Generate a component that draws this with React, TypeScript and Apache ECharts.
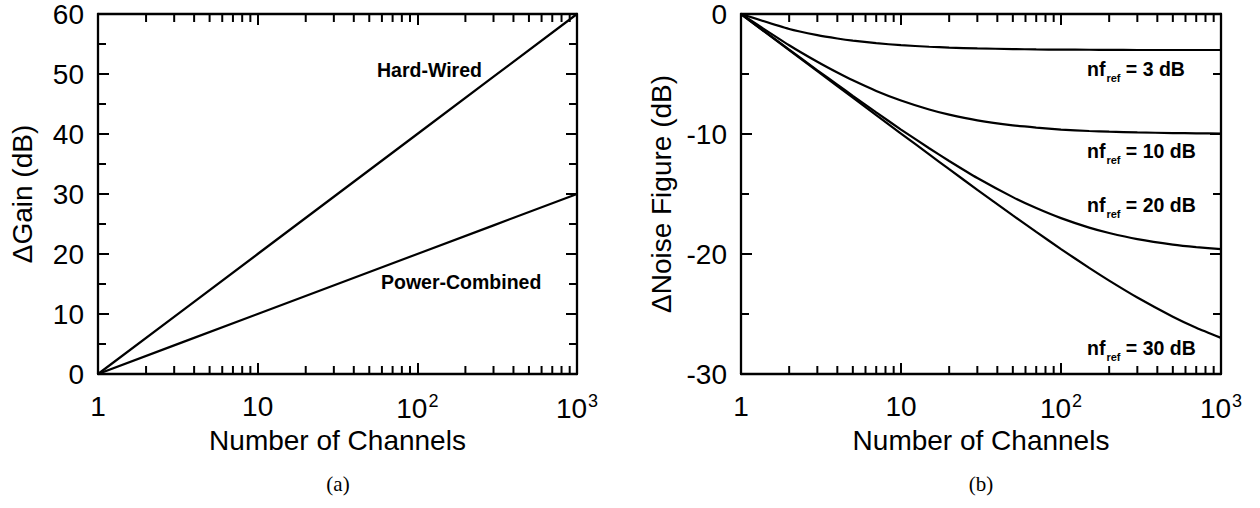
import React, { useEffect, useRef } from "react";
import * as echarts from "echarts";

// ---- Data ----
const gainChannels = [1, 10, 100, 1000];
const hardWired = [0, 20, 40, 60];
const powerCombined = [0, 10, 20, 30];

const nfChannels = [1, 2, 3, 4, 5, 7, 10, 15, 20, 30, 50, 70, 100, 150, 200, 300, 500, 700, 1000];
const nfRef3 = [0, -1.25, -1.76, -2.04, -2.22, -2.43, -2.6, -2.73, -2.8, -2.87, -2.92, -2.95, -2.97, -2.98, -2.99, -3.0, -3.0, -3.0, -3.0];
const nfRef10 = [0, -2.6, -3.98, -4.88, -5.53, -6.41, -7.21, -7.96, -8.39, -8.86, -9.28, -9.47, -9.63, -9.75, -9.81, -9.87, -9.92, -9.94, -9.96];
const nfRef20 = [0, -2.97, -4.69, -5.89, -6.82, -8.2, -9.63, -11.19, -12.25, -13.67, -15.26, -16.17, -17.01, -17.8, -18.25, -18.76, -19.22, -19.43, -19.59];
const nfRef30 = [0, -3.01, -4.76, -6.01, -6.97, -8.43, -9.96, -11.7, -12.93, -14.65, -16.78, -18.16, -19.59, -21.16, -22.22, -23.63, -25.23, -26.15, -26.99];

const xMinorTicks = [2, 3, 4, 5, 6, 7, 8, 9, 20, 30, 40, 50, 60, 70, 80, 90, 200, 300, 400, 500, 600, 700, 800, 900];

const gainAxis = { min: 0, max: 60, interval: 10 };
const nfAxis = { min: -30, max: 0, interval: 10 };

const gainTitle = "ΔGain (dB)";
const nfTitle = "ΔNoise Figure (dB)";
const xTitle = "Number of Channels";

const FONT = "Liberation Sans, Arial, Helvetica, sans-serif";
const BLACK = "#000";

function xLabel(v: number): string {
  if (v === 1) return "1";
  if (v === 10) return "10";
  const e = Math.round(Math.log10(v));
  return `{b|10}{s|${e}}`;
}

const richX = {
  b: { fontSize: 28, fontFamily: FONT, color: BLACK },
  s: { fontSize: 18, fontFamily: FONT, color: BLACK, padding: [0, 0, 14, 1] },
};

function xAxes(gridIndex: number) {
  const common = {
    type: "log" as const,
    logBase: 10,
    min: 1,
    max: 1000,
    gridIndex,
    splitLine: { show: false },
    axisLine: { show: true, onZero: false, lineStyle: { color: BLACK, width: 2.3 } },
    axisTick: { show: true, inside: true, length: 11, lineStyle: { color: BLACK, width: 2 } },
  };
  return [
    {
      ...common,
      position: "bottom",
      name: xTitle,
      nameLocation: "middle",
      nameGap: 52,
      nameTextStyle: { fontSize: 28, fontFamily: FONT, color: BLACK },
      axisLabel: {
        show: true,
        margin: 18,
        fontSize: 28,
        fontFamily: FONT,
        color: BLACK,
        formatter: xLabel,
        rich: richX,
        showMinLabel: true,
        showMaxLabel: true,
      },
    },
    { ...common, position: "top", axisLabel: { show: false } },
  ];
}

function yAxes(gridIndex: number, ax: { min: number; max: number; interval: number }, title: string, gap: number) {
  const common = {
    type: "value" as const,
    gridIndex,
    min: ax.min,
    max: ax.max,
    interval: ax.interval,
    splitLine: { show: false },
    axisLine: { show: true, onZero: false, lineStyle: { color: BLACK, width: 2.3 } },
    axisTick: { show: true, inside: true, length: 11, lineStyle: { color: BLACK, width: 2 } },
    minorTick: { show: true, splitNumber: 2, length: 8, lineStyle: { color: BLACK, width: 2 } },
    minorSplitLine: { show: false },
  };
  return [
    {
      ...common,
      position: "left",
      name: title,
      nameLocation: "middle",
      nameGap: gap,
      nameRotate: 90,
      nameTextStyle: { fontSize: 28, fontFamily: FONT, color: BLACK },
      axisLabel: { show: true, margin: 14, fontSize: 28, fontFamily: FONT, color: BLACK },
    },
    { ...common, position: "right", axisLabel: { show: false } },
  ];
}

function minorTickSeries(xAxisIndex: number, yAxisIndex: number, yMin: number) {
  return {
    type: "custom",
    xAxisIndex,
    yAxisIndex,
    silent: true,
    clip: false,
    data: xMinorTicks.map((v) => [v, yMin]),
    renderItem: (params: any, api: any) => {
      const x = api.coord([api.value(0), api.value(1)])[0];
      const cs = params.coordSys;
      const bottom = cs.y + cs.height;
      return {
        type: "group",
        children: [
          { type: "line", shape: { x1: x, y1: bottom, x2: x, y2: bottom - 8 }, style: { stroke: BLACK, lineWidth: 2 } },
          { type: "line", shape: { x1: x, y1: cs.y, x2: x, y2: cs.y + 8 }, style: { stroke: BLACK, lineWidth: 2 } },
        ],
      };
    },
  };
}

function lineSeries(name: string, xs: number[], ys: number[], xAxisIndex: number, yAxisIndex: number) {
  return {
    type: "line",
    name,
    xAxisIndex,
    yAxisIndex,
    data: xs.map((x, i) => [x, ys[i]]),
    showSymbol: false,
    smooth: 0.2,
    lineStyle: { color: BLACK, width: 2.2 },
    itemStyle: { color: BLACK },
    z: 3,
  };
}

const annStyle = { fontSize: 19.5, fontWeight: "bold", fontFamily: FONT, fill: BLACK };

function nfLabel(x: number, y: number, val: string) {
  return {
    type: "text",
    x,
    y,
    style: {
      text: `{a|nf}{r|ref}{a| = ${val} dB}`,
      verticalAlign: "middle",
      rich: {
        a: { fontSize: 19.5, fontWeight: "bold", fontFamily: FONT, fill: BLACK, lineHeight: 20, padding: [0, 0, 5, 0] },
        r: { fontSize: 11, fontWeight: "bold", fontFamily: FONT, fill: BLACK, lineHeight: 11, padding: [14, 0, 0, 1] },
      },
    },
  };
}

export default function App() {
  const ref = useRef<HTMLDivElement>(null);

  useEffect(() => {
    if (!ref.current) return;
    const chart = echarts.init(ref.current, undefined, { renderer: "svg" });
    const xa = [...xAxes(0), ...xAxes(1)];
    const ya = [...yAxes(0, gainAxis, gainTitle, 62), ...yAxes(1, nfAxis, nfTitle, 66)];
    chart.setOption({
      animation: false,
      backgroundColor: "#fff",
      grid: [
        { left: 98, right: 683, top: 14, bottom: 134 },
        { left: 741, right: 39, top: 14, bottom: 134 },
      ],
      xAxis: xa,
      yAxis: ya,
      series: [
        lineSeries("Hard-Wired", gainChannels, hardWired, 0, 0),
        lineSeries("Power-Combined", gainChannels, powerCombined, 0, 0),
        minorTickSeries(0, 0, gainAxis.min),
        lineSeries("nf_ref = 3 dB", nfChannels, nfRef3, 2, 2),
        lineSeries("nf_ref = 10 dB", nfChannels, nfRef10, 2, 2),
        lineSeries("nf_ref = 20 dB", nfChannels, nfRef20, 2, 2),
        lineSeries("nf_ref = 30 dB", nfChannels, nfRef30, 2, 2),
        minorTickSeries(2, 2, nfAxis.min),
      ],
      graphic: [
        { type: "text", x: 377, y: 70, style: { ...annStyle, text: "Hard-Wired", verticalAlign: "middle" } },
        { type: "text", x: 381, y: 282, style: { ...annStyle, text: "Power-Combined", verticalAlign: "middle" } },
        nfLabel(1087, 71, "3"),
        nfLabel(1087, 153, "10"),
        nfLabel(1087, 207, "20"),
        nfLabel(1087, 350, "30"),
        {
          type: "text",
          x: 338,
          y: 484,
          style: { text: "(a)", fontSize: 21, fontFamily: "Liberation Serif, Times New Roman, serif", fill: BLACK, align: "center", verticalAlign: "middle" },
        },
        {
          type: "text",
          x: 981,
          y: 484,
          style: { text: "(b)", fontSize: 21, fontFamily: "Liberation Serif, Times New Roman, serif", fill: BLACK, align: "center", verticalAlign: "middle" },
        },
      ],
    });
    return () => chart.dispose();
  }, []);

  return (
    <div
      ref={ref}
      style={{ position: "fixed", left: 0, top: 0, width: 1260, height: 508, background: "#fff" }}
    />
  );
}
